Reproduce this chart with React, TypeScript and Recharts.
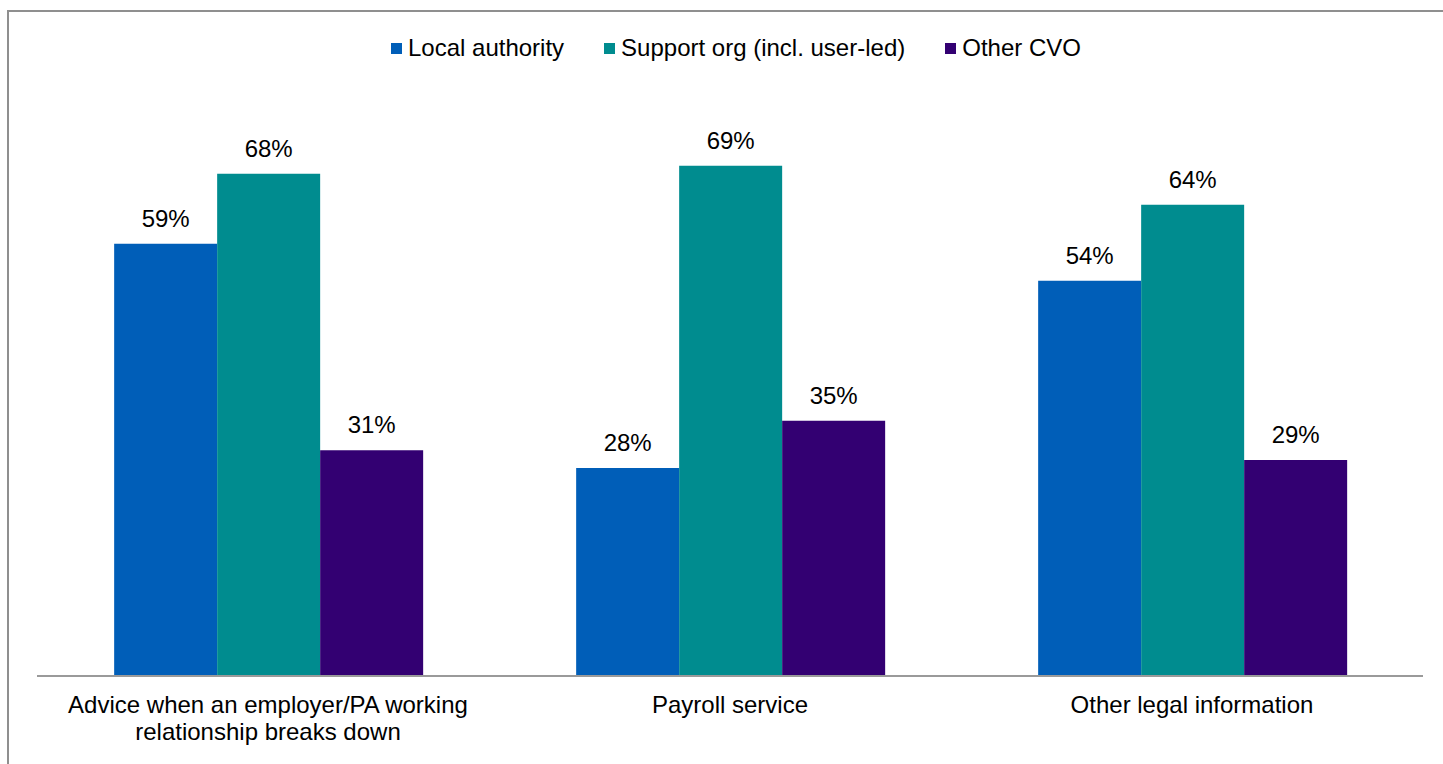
import React from "react";
import { Bar, BarChart, LabelList, XAxis, YAxis } from "recharts";

const categories = [
  "Advice when an employer/PA working relationship breaks down",
  "Payroll service",
  "Other legal information",
];
const seriesNames = ["Local authority", "Support org (incl. user-led)", "Other CVO"];
const localAuthority = [58.6, 28.2, 53.6];
const supportOrg = [68.1, 69.2, 63.9];
const otherCvo = [30.6, 34.6, 29.3];
const colors = ["#005EB8", "#008C8F", "#330072"];

const FONT = "Arial, 'Liberation Sans', sans-serif";

const data = categories.map((name, i) => ({
  name,
  la: localAuthority[i],
  so: supportOrg[i],
  cvo: otherCvo[i],
}));
const keys = ["la", "so", "cvo"];

// wrap on words, about 36 characters per line
function wrap(text: string, max = 36) {
  const lines: string[] = [];
  let cur = "";
  for (const w of text.split(" ")) {
    const next = cur ? cur + " " + w : w;
    if (next.length > max && cur) {
      lines.push(cur);
      cur = w;
    } else cur = next;
  }
  if (cur) lines.push(cur);
  return lines;
}

function CategoryTick(props: any) {
  const { x, y, payload } = props;
  const lines = wrap(String(payload.value));
  return (
    <text
      x={x}
      y={y + 37}
      textAnchor="middle"
      style={{ fontSize: 24, fontFamily: FONT, fill: "#000" }}
    >
      {lines.map((l, i) => (
        <tspan key={i} x={x} dy={i === 0 ? 0 : 27}>
          {l}
        </tspan>
      ))}
    </text>
  );
}

const pct = (v: any) => `${Math.round(Number(v))}%`;

export default function App() {
  return (
    <div
      style={{
        position: "absolute",
        left: 0,
        top: 0,
        width: 1443,
        height: 764,
        overflow: "hidden",
        background: "#fff",
        fontFamily: FONT,
      }}
    >
      <div
        style={{
          position: "absolute",
          left: 7,
          top: 10,
          width: 1600,
          height: 900,
          border: "2px solid #8f8f8f",
        }}
      />
      <div
        style={{
          position: "absolute",
          left: 391,
          top: 35,
          height: 26,
          display: "flex",
          alignItems: "center",
          gap: 40,
          fontSize: 24,
          color: "#000",
          whiteSpace: "nowrap",
        }}
      >
        {seriesNames.map((s, i) => (
          <div key={s} style={{ display: "flex", alignItems: "center" }}>
            <span
              style={{
                display: "inline-block",
                width: 11,
                height: 11,
                background: colors[i],
                marginRight: 6,
              }}
            />
            <span>{s}</span>
          </div>
        ))}
      </div>
      <div style={{ position: "absolute", left: 0, top: 0 }}>
        <BarChart
          width={1443}
          height={764}
          data={data}
          margin={{ top: 86, right: 20, bottom: 28, left: 37 }}
          barCategoryGap="16.7%"
          barGap={0}
        >
          <YAxis hide domain={[0, 80]} width={0} />
          <XAxis
            dataKey="name"
            height={60}
            tickSize={0}
            tickMargin={0}
            tickLine={false}
            interval={0}
            axisLine={{ stroke: "#9a9a9a", strokeWidth: 2 }}
            tick={<CategoryTick />}
          />
          {keys.map((k, i) => (
            <Bar
              key={k}
              dataKey={k}
              name={seriesNames[i]}
              fill={colors[i]}
              isAnimationActive={false}
            >
              <LabelList
                dataKey={k}
                position="top"
                offset={17}
                formatter={pct}
                style={{ fontSize: 24, fontFamily: FONT, fill: "#000" }}
              />
            </Bar>
          ))}
        </BarChart>
      </div>
    </div>
  );
}
